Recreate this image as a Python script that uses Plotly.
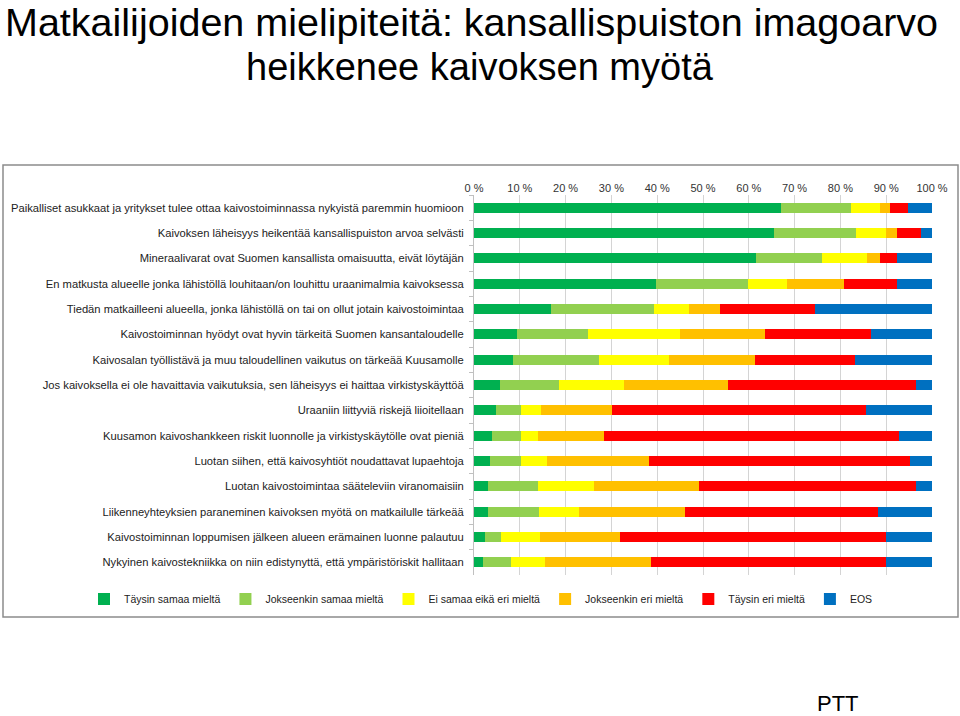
import plotly.graph_objects as go

categories = [
    "Paikalliset asukkaat ja yritykset tulee ottaa kaivostoiminnassa nykyistä paremmin huomioon",
    "Kaivoksen läheisyys heikentää kansallispuiston arvoa selvästi",
    "Mineraalivarat ovat Suomen kansallista omaisuutta, eivät löytäjän",
    "En matkusta alueelle jonka lähistöllä louhitaan/on louhittu uraanimalmia kaivoksessa",
    "Tiedän matkailleeni alueella, jonka lähistöllä on tai on ollut jotain kaivostoimintaa",
    "Kaivostoiminnan hyödyt ovat hyvin tärkeitä Suomen kansantaloudelle",
    "Kaivosalan työllistävä ja muu taloudellinen vaikutus on tärkeää Kuusamolle",
    "Jos kaivoksella ei ole havaittavia vaikutuksia, sen läheisyys ei haittaa virkistyskäyttöä",
    "Uraaniin liittyviä riskejä liioitellaan",
    "Kuusamon kaivoshankkeen riskit luonnolle ja virkistyskäytölle ovat pieniä",
    "Luotan siihen, että kaivosyhtiöt noudattavat lupaehtoja",
    "Luotan kaivostoimintaa sääteleviin viranomaisiin",
    "Liikenneyhteyksien paraneminen kaivoksen myötä on matkailulle tärkeää",
    "Kaivostoiminnan loppumisen jälkeen alueen erämainen luonne palautuu",
    "Nykyinen kaivostekniikka on niin edistynyttä, että ympäristöriskit hallitaan",
]

taysin_samaa = [67.0, 65.5, 61.6, 39.7, 16.9, 9.3, 8.6, 5.6, 4.7, 4.0, 3.5, 3.1, 3.1, 2.3, 1.9]
jokseenkin_samaa = [15.3, 18.0, 14.4, 20.1, 22.3, 15.6, 18.8, 12.9, 5.5, 6.2, 6.7, 10.8, 11.1, 3.5, 6.1]
ei_samaa_eika_eri = [6.4, 6.5, 9.9, 8.5, 7.8, 20.0, 15.2, 14.2, 4.5, 3.7, 5.8, 12.4, 8.8, 8.6, 7.4]
jokseenkin_eri = [2.1, 2.4, 2.8, 12.4, 6.8, 18.6, 18.7, 22.7, 15.5, 14.4, 22.1, 22.8, 23.0, 17.5, 23.3]
taysin_eri = [3.9, 5.1, 3.7, 11.6, 20.7, 23.2, 21.9, 41.0, 55.4, 64.5, 57.0, 47.3, 42.3, 58.0, 51.2]
eos = [5.3, 2.5, 7.6, 7.7, 25.5, 13.3, 16.8, 3.6, 14.4, 7.2, 4.9, 3.6, 11.7, 10.1, 10.1]

series_names = ["Täysin samaa mieltä", "Jokseenkin samaa mieltä", "Ei samaa eikä eri mieltä",
                "Jokseenkin eri mieltä", "Täysin eri mieltä", "EOS"]
series_values = [taysin_samaa, jokseenkin_samaa, ei_samaa_eika_eri, jokseenkin_eri, taysin_eri, eos]
colors = ["#00B050", "#92D050", "#FFFF00", "#FFC000", "#FF0000", "#0070C0"]

x_ticks = list(range(0, 101, 10))
x_tick_labels = [f"{v} %" for v in x_ticks]

title_line1 = "Matkailijoiden mielipiteitä: kansallispuiston imagoarvo"
title_line2 = "heikkenee kaivoksen myötä"

fig = go.Figure()
for name, vals, col in zip(series_names, series_values, colors):
    fig.add_trace(go.Bar(y=categories, x=vals, name=name, orientation="h",
                         marker=dict(color=col, line=dict(width=0))))

W, H = 960, 716
ml, mr, mt, mb = 474, 28, 195, 141
pw, ph = W - ml - mr, H - mt - mb

def px_x(p):
    return (p - ml) / pw

def px_y(p):
    return (H - mb - p) / ph

fig.update_layout(
    width=W, height=H,
    margin=dict(l=ml, r=mr, t=mt, b=mb, autoexpand=False),
    barmode="stack", bargap=0.6,
    paper_bgcolor="white", plot_bgcolor="white",
    font=dict(family="Liberation Sans, Arial, sans-serif", color="#222222"),
    showlegend=True,
    legend=dict(orientation="h", x=px_x(84), xanchor="left", y=px_y(599), yanchor="middle",
                font=dict(size=10.5, color="#222222"), traceorder="normal",
                itemwidth=30, tracegroupgap=0, bgcolor="rgba(0,0,0,0)"),
    xaxis=dict(side="top", range=[0, 100], tickmode="array", tickvals=x_ticks, ticktext=x_tick_labels,
               showgrid=True, gridcolor="#d4d4d4", gridwidth=1, zeroline=False,
               showline=False, tickfont=dict(size=11, color="#333333"), ticks=""),
    yaxis=dict(autorange="reversed", showgrid=False, showline=True, linecolor="#c0c0c0",
               ticks="outside", ticklen=4, tickcolor="#c0c0c0", tickson="boundaries",
               ticklabelstandoff=7,
               tickfont=dict(size=11.2, color="#222222")),
)

fig.add_shape(type="rect", xref="paper", yref="paper",
              x0=px_x(3), x1=px_x(958), y0=px_y(617), y1=px_y(165),
              line=dict(color="#8c8c8c", width=1.5), fillcolor="rgba(0,0,0,0)", layer="below")

fig.add_annotation(text=title_line1, xref="paper", yref="paper", x=px_x(471), y=px_y(22),
                   xanchor="center", yanchor="middle", showarrow=False,
                   font=dict(size=39.5, color="black"))
fig.add_annotation(text=title_line2, xref="paper", yref="paper", x=px_x(480), y=px_y(67),
                   xanchor="center", yanchor="middle", showarrow=False,
                   font=dict(size=38, color="black"))

fig.add_annotation(text="PTT", xref="paper", yref="paper", x=px_x(838), y=px_y(703),
                   xanchor="center", yanchor="middle", showarrow=False,
                   font=dict(size=22, color="black"))

fig.write_html("out.html", config={"displayModeBar": False},
               post_script="document.body.style.margin='0';document.body.style.overflow='hidden';")
